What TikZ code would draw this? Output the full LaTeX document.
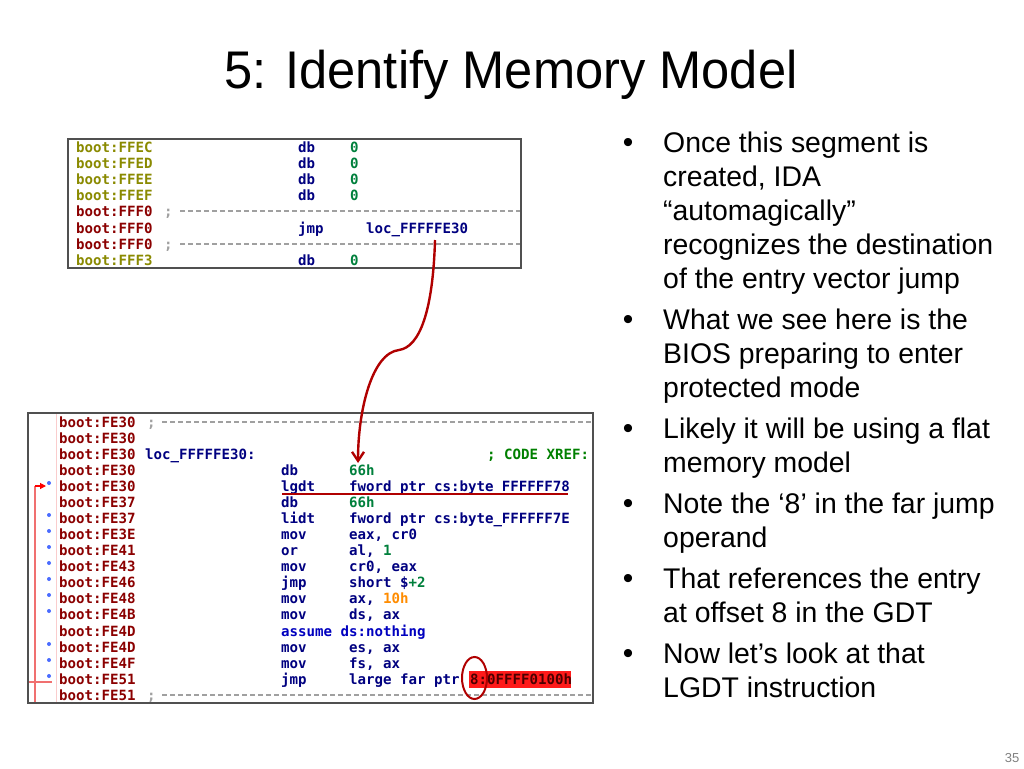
\documentclass[tikz,border=0pt]{standalone}
\usepackage{fontspec}
\setmainfont{Liberation Sans}
\newfontfamily\titlefont[FakeStretch=0.955]{Liberation Sans}
\newfontfamily\codefont[BoldFont={DejaVu Sans Mono Bold}]{DejaVu Sans Mono}
\usetikzlibrary{arrows.meta}
\definecolor{olv}{HTML}{8A8A00}
\definecolor{drd}{HTML}{8B0000}
\definecolor{nav}{HTML}{000080}
\definecolor{grn}{HTML}{00803C}
\definecolor{cgrn}{HTML}{008000}
\definecolor{org}{HTML}{FF8C00}
\definecolor{dsh}{HTML}{A0A0A0}
\definecolor{arr}{HTML}{B00000}
\definecolor{hil}{HTML}{FF1A1A}
\definecolor{pnk}{HTML}{F07070}
\definecolor{dotb}{HTML}{4A6CFF}
\definecolor{frame}{HTML}{505050}
\tikzset{
  code/.style={inner sep=0pt, anchor=base west, font=\codefont\bfseries\fontsize{14.1}{16}\selectfont},
  addrO/.style={code, text=olv},
  addrR/.style={code, text=drd},
  ins/.style={code, text=nav},
  num/.style={code, text=grn},
  semi/.style={code, text=dsh},
  sep/.style={draw=dsh, line width=1.1pt, dash pattern=on 5pt off 3pt},
  codebox/.style={draw=frame, line width=1.4pt, fill=white},
  body/.style={inner sep=0pt, anchor=base west, font=\fontsize{28.4}{34}\selectfont},
  bul/.style={inner sep=0pt, anchor=base, font=\fontsize{30}{34}\selectfont},
}
\begin{document}
\begin{tikzpicture}[x=1pt,y=-1pt]
\useasboundingbox (0,0) rectangle (1024,768);
% title
\node[inner sep=0pt, anchor=base, font=\titlefont\fontsize{53}{60}\selectfont] (title) at (511,88) {5: Identify Memory Model};

% ---------- top code box ----------
\draw[codebox] (68,139) rectangle (521,268);
\node[addrO] (t1a) at (76,152) {boot:FFEC};
\node[ins] (t1i) at (298,152) {db};
\node[num] (t1o) at (350,152) {0};
\node[addrO] (t2a) at (76,168) {boot:FFED};
\node[ins] (t2i) at (298,168) {db};
\node[num] (t2o) at (350,168) {0};
\node[addrO] (t3a) at (76,184) {boot:FFEE};
\node[ins] (t3i) at (298,184) {db};
\node[num] (t3o) at (350,184) {0};
\node[addrO] (t4a) at (76,200) {boot:FFEF};
\node[ins] (t4i) at (298,200) {db};
\node[num] (t4o) at (350,200) {0};
\node[addrR] (t5a) at (76,216) {boot:FFF0};
\node[semi] (t5s) at (164,216) {;};
\draw[sep] (180,211) -- (520,211);
\node[addrR] (t6a) at (76,233) {boot:FFF0};
\node[ins] (t6i) at (298,233) {jmp};
\node[ins] (t6o) at (366,233) {loc\_FFFFFE30};
\node[addrR] (t7a) at (76,249) {boot:FFF0};
\node[semi] (t7s) at (164,249) {;};
\draw[sep] (180,244) -- (520,244);
\node[addrO] (t8a) at (76,265) {boot:FFF3};
\node[ins] (t8i) at (298,265) {db};
\node[num] (t8o) at (350,265) {0};

% ---------- bottom code box ----------
\draw[codebox] (28,413) rectangle (593,703);
\draw[draw=pnk!35, line width=0.8pt] (56,414) -- (56,702);
\draw[sep] (162,422) -- (592,422);
\draw[sep] (162,695) -- (592,695);
\node[addrR] (b1a) at (59,427) {boot:FE30};
\node[semi] (b1s) at (147,427) {;};
\node[addrR] (b2a) at (59,443) {boot:FE30};
\node[addrR] (b3a) at (59,459) {boot:FE30};
\node[ins] (b3l) at (145,459) {loc\_FFFFFE30:};
\node[code, text=cgrn] (b3c) at (487,459) {; CODE XREF:};
\node[addrR] (b4a) at (59,475) {boot:FE30};
\node[ins] (b4i) at (281,475) {db};
\node[num] (b4o) at (349,475) {66h};
\node[addrR] (b5a) at (59,491) {boot:FE30};
\node[ins] (b5i) at (281,491) {lgdt};
\node[ins] (b5o) at (349,491) {fword ptr cs:byte\_FFFFFF78};
\node[addrR] (b6a) at (59,507) {boot:FE37};
\node[ins] (b6i) at (281,507) {db};
\node[num] (b6o) at (349,507) {66h};
\node[addrR] (b7a) at (59,523) {boot:FE37};
\node[ins] (b7i) at (281,523) {lidt};
\node[ins] (b7o) at (349,523) {fword ptr cs:byte\_FFFFFF7E};
\node[addrR] (b8a) at (59,539) {boot:FE3E};
\node[ins] (b8i) at (281,539) {mov};
\node[ins] (b8o) at (349,539) {eax, cr0};
\node[addrR] (b9a) at (59,555) {boot:FE41};
\node[ins] (b9i) at (281,555) {or};
\node[ins] (b9o) at (349,555) {al, \textcolor{grn}{1}};
\node[addrR] (b10a) at (59,571) {boot:FE43};
\node[ins] (b10i) at (281,571) {mov};
\node[ins] (b10o) at (349,571) {cr0, eax};
\node[addrR] (b11a) at (59,587) {boot:FE46};
\node[ins] (b11i) at (281,587) {jmp};
\node[ins] (b11o) at (349,587) {short \$\textcolor{grn}{+2}};
\node[addrR] (b12a) at (59,603) {boot:FE48};
\node[ins] (b12i) at (281,603) {mov};
\node[ins] (b12o) at (349,603) {ax, \textcolor{org}{10h}};
\node[addrR] (b13a) at (59,619) {boot:FE4B};
\node[ins] (b13i) at (281,619) {mov};
\node[ins] (b13o) at (349,619) {ds, ax};
\node[addrR] (b14a) at (59,636) {boot:FE4D};
\node[code, text=blue!75!black] (b14i) at (281,636) {assume ds:nothing};
\node[addrR] (b15a) at (59,652) {boot:FE4D};
\node[ins] (b15i) at (281,652) {mov};
\node[ins] (b15o) at (349,652) {es, ax};
\node[addrR] (b16a) at (59,668) {boot:FE4F};
\node[ins] (b16i) at (281,668) {mov};
\node[ins] (b16o) at (349,668) {fs, ax};
\node[addrR] (b17a) at (59,684) {boot:FE51};
\node[ins] (b17i) at (281,684) {jmp};
\node[ins] (b17o) at (349,684) {large far ptr};
\fill[hil] (469,671) rectangle (571,688);
\node[code, text=black!70!red] (b17h) at (470,684) {8:0FFFF0100h};
\node[addrR] (b18a) at (59,700) {boot:FE51};
\node[semi] (b18s) at (147,700) {;};

% gutter jump marks
\foreach \yy in {483,515,531,547,563,579,595,611,644,660,676}
  \fill[dotb] (49,\yy) circle (2);
\draw[pnk, line width=1.2pt] (35,702) -- (35,486);
\draw[red, line width=1.2pt, -{Triangle[length=6pt,width=6pt]}] (35,486) -- (46,486);
\draw[pnk, line width=1.2pt] (29,682) -- (52,682);

% highlights
\draw[arr, line width=2pt] (282,494) -- (568,494);
\draw[arr, line width=2pt] (474.5,678) ellipse (12.5 and 21);

% curved jump arrow
\coordinate (js) at (435,240);
\coordinate (je) at (358,463);
\draw[arr, line width=2.4pt, -{Straight Barb[length=9pt,width=12pt]}]
  (js) .. controls (433,310) and (420,347) .. (399,350)
       .. controls (372,353) and (358,410) .. (je);

% bullets
\node[bul] (u1) at (628,152) {•};
\node[body] (l1) at (663,152) {Once this segment is};
\node[body] (l2) at (663,186) {created, IDA};
\node[body] (l3) at (663,220) {“automagically”};
\node[body] (l4) at (663,254) {recognizes the destination};
\node[body] (l5) at (663,288) {of the entry vector jump};
\node[bul] (u2) at (628,329) {•};
\node[body] (l6) at (663,329) {What we see here is the};
\node[body] (l7) at (663,363) {BIOS preparing to enter};
\node[body] (l8) at (663,397) {protected mode};
\node[bul] (u3) at (628,438) {•};
\node[body] (l9) at (663,438) {Likely it will be using a flat};
\node[body] (l10) at (663,472) {memory model};
\node[bul] (u4) at (628,513) {•};
\node[body] (l11) at (663,513) {Note the ‘8’ in the far jump};
\node[body] (l12) at (663,547) {operand};
\node[bul] (u5) at (628,588) {•};
\node[body] (l13) at (663,588) {That references the entry};
\node[body] (l14) at (663,622) {at offset 8 in the GDT};
\node[bul] (u6) at (628,663) {•};
\node[body] (l15) at (663,663) {Now let’s look at that};
\node[body] (l16) at (663,697) {LGDT instruction};

\node[inner sep=0pt, anchor=base, text=black!50, font=\fontsize{13}{15}\selectfont] (pg) at (1012,762) {35};
\end{tikzpicture}
\end{document}
